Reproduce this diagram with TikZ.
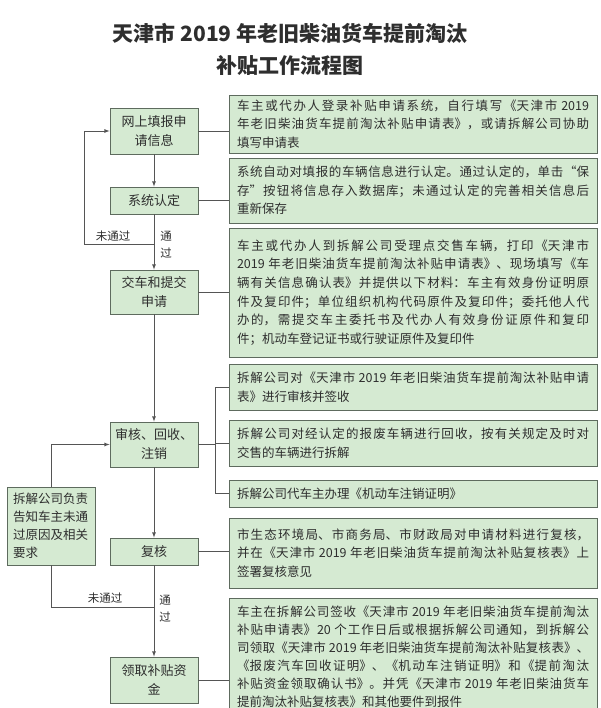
\documentclass[tikz,border=0pt]{standalone}
\usepackage{fontspec}
\setmainfont{Noto Sans CJK SC}
\usetikzlibrary{shadows}
\XeTeXlinebreaklocale "zh"
\XeTeXlinebreakskip=0pt plus 2pt
\XeTeXlinebreakpenalty=10000
\definecolor{boxgreen}{HTML}{D5EAD2}
\definecolor{boxline}{HTML}{5E6B5E}
\definecolor{linkgray}{HTML}{555555}
\definecolor{ink}{HTML}{2E2E2E}

\begin{document}
\begin{tikzpicture}[x=1pt,y=-1pt,>=latex,
		every node/.style={text=ink},
		stage/.style={draw=boxline,fill=boxgreen,line width=.8pt,
			drop shadow={shadow xshift=1.2pt,shadow yshift=-1.2pt,opacity=.3},
			minimum width=88pt,minimum height=27pt,inner sep=2pt,align=center,
			font=\fontsize{13}{19}\selectfont},
		note/.style={draw=boxline,fill=boxgreen,line width=.8pt,
			drop shadow={shadow xshift=1.2pt,shadow yshift=-1.2pt,opacity=.3},
			text width=352pt,inner xsep=8pt,inner ysep=1pt,align=justify,
			font=\fontsize{12.5}{18.6}\selectfont},
		link/.style={draw=linkgray,line width=.8pt},
		tag/.style={inner sep=0pt,align=center,font=\fontsize{11.5}{17}\selectfont}]
		\useasboundingbox (0,0) rectangle (600,708);
		\fill[white] (0,0) rectangle (600,708);
		\clip (0,0) rectangle (600,708);

		\node[align=center,font=\fontsize{21}{32}\bfseries\selectfont] (title) at (290,49)
			{天津市~2019~年老旧柴油货车提前淘汰\\补贴工作流程图};

		\node[stage,minimum height=46pt] (apply) at (154,131) {网上填报申\\请信息};
		\node[stage] (check) at (154,200.5) {系统认定};
		\node[stage,minimum height=44pt] (hand) at (154,292) {交车和提交\\申请};
		\node[stage,minimum height=45pt] (audit) at (154,444.5) {审核、回收、\\注销};
		\node[stage] (review) at (154,551.5) {复核};
		\node[stage,minimum height=46pt] (collect) at (154,680) {领取补贴资\\金};
		\node[stage,minimum height=78pt,text width=76pt,align=left,
			font=\fontsize{12.5}{18}\selectfont] (notify) at (51,526)
			{拆解公司负责\\告知车主未通\\过原因及相关\\要求};

		\node[note,minimum height=58pt] (d1) at (413,124)
			{车主或代办人登录补贴申请系统，自行填写《天津市~2019\linebreak 年老旧柴油货车提前淘汰补贴申请表》，或请拆解公司协助\linebreak 填写申请表};
		\node[note,minimum height=65pt] (d2) at (413,190.5)
			{系统自动对填报的车辆信息进行认定。通过认定的，单击“保\linebreak 存”按钮将信息存入数据库；未通过认定的完善相关信息后\linebreak 重新保存};
		\node[note,minimum height=129pt] (d3) at (413,292.5)
			{车主或代办人到拆解公司受理点交售车辆，打印《天津市\linebreak 2019~年老旧柴油货车提前淘汰补贴申请表》、现场填写《车\linebreak 辆有关信息确认表》并提供以下材料：车主有效身份证明原\linebreak 件及复印件；单位组织机构代码原件及复印件；委托他人代\linebreak 办的，需提交车主委托书及代办人有效身份证原件和复印\linebreak 件；机动车登记证书或行驶证原件及复印件};
		\node[note,minimum height=46pt] (d4) at (413,387)
			{拆解公司对《天津市~2019~年老旧柴油货车提前淘汰补贴申请\linebreak 表》进行审核并签收};
		\node[note,minimum height=46pt] (d5) at (413,443)
			{拆解公司对经认定的报废车辆进行回收，按有关规定及时对\linebreak 交售的车辆进行拆解};
		\node[note,minimum height=27pt] (d6) at (413,493.5)
			{拆解公司代车主办理《机动车注销证明》};
		\node[note,minimum height=70pt] (d7) at (413,553)
			{市生态环境局、市商务局、市财政局对申请材料进行复核，\linebreak 并在《天津市~2019~年老旧柴油货车提前淘汰补贴复核表》上\linebreak 签署复核意见};
		\node[note,minimum height=116pt,anchor=north,font=\fontsize{12.5}{18}\selectfont] (d8) at (413,598)
			{车主在拆解公司签收《天津市~2019~年老旧柴油货车提前淘汰\linebreak 补贴申请表》20~个工作日后或根据拆解公司通知，到拆解公\linebreak 司领取《天津市~2019~年老旧柴油货车提前淘汰补贴复核表》、\linebreak 《报废汽车回收证明》、《机动车注销证明》和《提前淘汰\linebreak 补贴资金领取确认书》。并凭《天津市~2019~年老旧柴油货车\linebreak 提前淘汰补贴复核表》和其他要件到报件};

		\draw[link,->] (apply) -- (check);
		\draw[link,->] (check) -- (hand);
		\draw[link,->] (hand) -- (audit);
		\draw[link,->] (audit) -- (review);
		\draw[link,->] (review) -- (collect);

		\draw[link] (apply.east) -- (apply.east -| d1.west);
		\draw[link] (check.east) -- (check.east -| d2.west);
		\draw[link] (hand.east) -- (hand.east -| d3.west);
		\draw[link] (review.east) -- (review.east -| d7.west);
		\draw[link] (collect.east) -- (collect.east -| d8.west);

		\coordinate (fork) at (215,444.5);
		\draw[link] (audit.east) -- (fork);
		\draw[link] (fork |- d4.west) -- (fork |- d6.west);
		\draw[link] (fork |- d4.west) -- (d4.west);
		\draw[link] (fork |- d5.west) -- (d5.west);
		\draw[link] (fork |- d6.west) -- (d6.west);

		\coordinate (back1) at (84,244);
		\draw[link,->] (back1 -| check.south) -- (back1) |- (apply.west);
		\node[tag] (fail1) at (113,236) {未通过};
		\node[tag] (pass1) at (166,245) {通\\过};

		\coordinate (back2) at (51,607);
		\draw[link] (back2 -| review.south) -- (back2) -- (notify.south);
		\draw[link,->] (notify.north) |- (audit.west);
		\node[tag] (fail2) at (105,598) {未通过};
		\node[tag] (pass2) at (165,609) {通\\过};
	\end{tikzpicture}
\end{document}
